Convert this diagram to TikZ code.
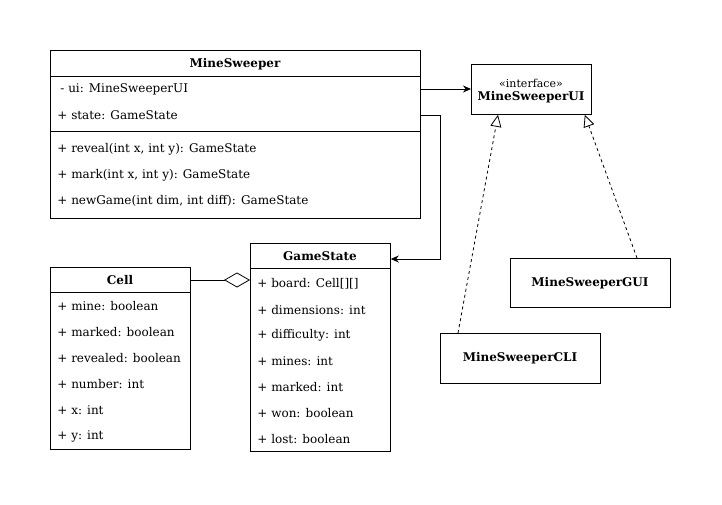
\documentclass[tikz,border=0pt]{standalone}
\usepackage{fontspec}
\setmainfont{DejaVu Serif}
\usetikzlibrary{positioning, arrows.meta, calc}
\tikzset{
    umlbox/.style={draw=black, fill=white, anchor=north west, inner sep=0pt},
    classname/.style={font=\fontsize{12}{14}\selectfont\bfseries},
    member/.style={anchor=west, inner sep=0pt},
    realize/.style={dash pattern=on 3pt off 3pt, -{Triangle[open, length=12pt, width=11pt]}}
}

\begin{document}
\begin{tikzpicture}[x=1pt, y=-1pt, line width=0.8pt, >={Stealth[length=8pt, width=7pt]},
    every node/.style={font=\fontsize{12}{14}\selectfont}]
  \useasboundingbox (0,0) rectangle (722,504);

  % MineSweeper
  \node[umlbox, minimum width=370pt, minimum height=168pt] (ms) at (50,50) {};
  \node[classname] (mst) at (235,64) {MineSweeper};
  \draw ($(ms.north west)+(0,26)$) -- ($(ms.north east)+(0,26)$);
  \node[member] (msui)    at (60,89)  {- ui: MineSweeperUI};
  \node[member] (msstate) at (57,115) {+ state: GameState};
  \draw ($(ms.north west)+(0,81)$) -- ($(ms.north east)+(0,81)$);
  \node[member] (msrev) at (57,149) {+ reveal(int x, int y): GameState};
  \node[member] (msmrk) at (57,175) {+ mark(int x, int y): GameState};
  \node[member] (msnew) at (57,201) {+ newGame(int dim, int diff): GameState};

  % interface
  \node[umlbox, minimum width=120pt, minimum height=50pt] (ui) at (471,64) {};
  \node (uis) at (531,83) {\fontsize{11}{13}\selectfont «interface»};
  \node[classname] (uit) at (531,97) {MineSweeperUI};

  % GameState
  \node[umlbox, minimum width=140pt, minimum height=208pt] (gs) at (250,243) {};
  \node[classname] (gst) at (320,256) {GameState};
  \draw ($(gs.north west)+(0,25)$) -- ($(gs.north east)+(0,25)$);
  \foreach \txt [count=\i from 0] in {+ board: Cell[][], + dimensions: int, + difficulty: int,
      + mines: int, + marked: int, + won: boolean, + lost: boolean}
    \node[member] (gs\i) at (257,284+25.8*\i) {\txt};

  % Cell
  \node[umlbox, minimum width=140pt, minimum height=182pt] (cell) at (50,267) {};
  \node[classname] (cellt) at (120,280) {Cell};
  \draw ($(cell.north west)+(0,25)$) -- ($(cell.north east)+(0,25)$);
  \foreach \txt [count=\i from 0] in {+ mine: boolean, + marked: boolean, + revealed: boolean,
      + number: int, + x: int, + y: int}
    \node[member] (cell\i) at (57,306+26*\i) {\txt};

  % implementations
  \node[umlbox, minimum width=160pt, minimum height=49pt] (gui) at (510,258) {};
  \node[classname] (guit) at (590,283) {MineSweeperGUI};
  \node[umlbox, minimum width=160pt, minimum height=50pt] (cli) at (440,333) {};
  \node[classname] (clit) at (520,358) {MineSweeperCLI};

  % relations
  \coordinate (bend) at (440,259);
  \draw[->] (ms.east |- msui) -- (ui.west |- msui);
  \draw[->] (ms.east |- msstate) -| (bend) -- (gs.east |- bend);
  \draw[{Diamond[open, length=26pt, width=15pt]}-] (gs.west |- cellt) -- (cell.east |- cellt);
  \draw[realize] ($(cli.north west)+(18,0)$) -- ($(ui.south west)+(27,0)$);
  \draw[realize] ($(gui.north west)+(127,0)$) -- ($(ui.south east)+(-7,0)$);
\end{tikzpicture}
\end{document}
